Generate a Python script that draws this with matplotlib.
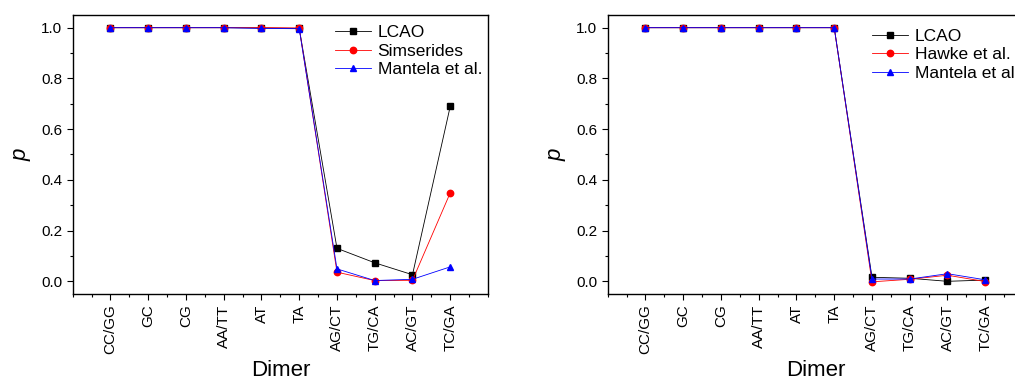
import matplotlib
import matplotlib.pyplot as plt
from matplotlib.ticker import MultipleLocator

matplotlib.use("Agg")

plt.rcParams["font.family"] = ["Liberation Sans", "DejaVu Sans"]

DIMERS = ["CC/GG", "GC", "CG", "AA/TT", "AT", "TA", "AG/CT", "TG/CA", "AC/GT", "TC/GA"]

# left panel
LCAO_L = [1.0, 1.0, 1.0, 1.0, 0.999, 0.997, 0.130, 0.073, 0.026, 0.690]
SIMSERIDES = [1.0, 1.0, 1.0, 1.0, 1.0, 0.999, 0.036, 0.003, 0.004, 0.349]
MANTELA_L = [1.0, 1.0, 1.0, 1.0, 0.997, 0.996, 0.049, 0.003, 0.008, 0.057]

# right panel
LCAO_R = [1.0, 1.0, 1.0, 1.0, 1.0, 1.0, 0.016, 0.012, 0.0, 0.005]
HAWKE = [1.0, 1.0, 1.0, 1.0, 1.0, 1.0, -0.002, 0.008, 0.024, -0.001]
MANTELA_R = [1.0, 1.0, 1.0, 1.0, 1.0, 1.0, 0.009, 0.009, 0.030, 0.006]

W, H = 1015, 381


def _panel(ax, series, legend_xy):
    x = list(range(1, len(DIMERS) + 1))
    for values, label, color, marker, ms in series:
        ax.plot(x, values, color=color, linewidth=0.6, marker=marker,
                markersize=ms, markerfacecolor=color, markeredgecolor=color,
                label=label)
    ax.set_xlim(0, 11)
    ax.set_ylim(-0.05, 1.05)
    ax.set_xticks(x)
    ax.set_xticklabels(DIMERS, rotation=90, fontsize=11)
    ax.xaxis.set_minor_locator(MultipleLocator(0.5))
    ax.yaxis.set_major_locator(MultipleLocator(0.2))
    ax.yaxis.set_minor_locator(MultipleLocator(0.1))
    ax.tick_params(axis="y", labelsize=11)
    ax.tick_params(which="major", direction="out", length=4, width=0.8)
    ax.tick_params(which="minor", direction="out", length=2.2, width=0.8)
    for sp in ax.spines.values():
        sp.set_linewidth(1.0)
    ax.set_xlabel("Dimer", fontsize=16, labelpad=4)
    ax.set_ylabel("p", fontsize=16, style="italic", labelpad=7)
    ax.legend(loc="upper left", bbox_to_anchor=legend_xy,
              bbox_transform=ax.figure.transFigure, frameon=False,
              fontsize=12.5, borderpad=0, borderaxespad=0,
              handlelength=2.1, handletextpad=0.35, labelspacing=0.2)


fig = plt.figure(figsize=(W / 100, H / 100), dpi=100)
ax_l = fig.add_axes([72.7 / W, 1 - 294 / H, (488 - 72.7) / W, (294 - 15) / H])
ax_r = fig.add_axes([607.7 / W, 1 - 294 / H, (1023 - 607.7) / W, (294 - 15) / H])

_panel(ax_l, [
    (LCAO_L, "LCAO", "black", "s", 4.3),
    (SIMSERIDES, "Simserides", "red", "o", 4.6),
    (MANTELA_L, "Mantela et al.", "blue", "^", 5.0),
], (335 / W, 1 - 25 / H))

_panel(ax_r, [
    (LCAO_R, "LCAO", "black", "s", 4.3),
    (HAWKE, "Hawke et al.", "red", "o", 4.6),
    (MANTELA_R, "Mantela et al.", "blue", "^", 5.0),
], (872 / W, 1 - 28.5 / H))

fig.savefig("out.png", dpi=100)
